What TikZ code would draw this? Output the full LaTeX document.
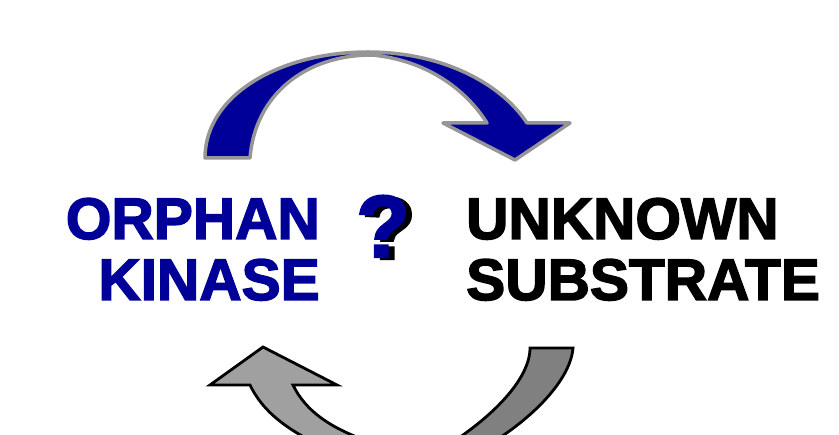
\documentclass[tikz,border=0pt]{standalone}
\usepackage{fontspec}
\setmainfont{Liberation Sans}[BoldFeatures={FakeBold=2.5}]
\definecolor{kblue}{RGB}{0,0,153}
\definecolor{lgray}{RGB}{160,160,160}
\definecolor{dgray}{RGB}{128,128,128}
\definecolor{ogray}{RGB}{150,150,150}
\begin{document}
\begin{tikzpicture}[x=1pt,y=-1pt,
  bigtxt/.style={inner sep=0pt,font=\fontsize{58.6}{60}\selectfont\bfseries},
  qmark/.style={inner sep=0pt,font=\fontsize{88}{90}\selectfont\bfseries},
  toparrow/.style={fill=kblue,draw=ogray,line width=3.5pt,line join=round},
  botarrow/.style={draw=black,line width=2.8pt,line join=miter}]
\useasboundingbox (0,0) rectangle (839,435);
\clip (0,0) rectangle (839,435);
% top arrow
\draw[toparrow] (205,158) .. controls (205,95) and (280,52) .. (368,52)
  .. controls (440,52) and (500,82) .. (527,123)
  -- (570,123) -- (515,160) -- (443,123) -- (487,123)
  .. controls (465,88) and (425,60) .. (372,55)
  .. controls (305,55) and (255,95) .. (250,158) -- cycle;
% bottom arrow, right part
\draw[botarrow,fill=dgray] (530,348) -- (573,348)
  .. controls (570,385) and (520,430) .. (470,455)
  -- (440,450)
  .. controls (490,420) and (530,380) .. (530,348) -- cycle;
% bottom arrow, left part
\draw[botarrow,fill=lgray] (263,347) -- (337,385) -- (293,385)
  .. controls (305,410) and (330,430) .. (380,445)
  -- (330,450)
  .. controls (285,430) and (262,410) .. (250,385)
  -- (210,385) -- cycle;
% texts
\node[bigtxt,text=kblue,anchor=base east] (orphan) at (320,239) {ORPHAN};
\node[bigtxt,text=kblue,anchor=base east] (kinase) at (320,300) {KINASE};
\node[bigtxt,text=black,anchor=base west] (unknown) at (466,239) {UNKNOWN};
\node[bigtxt,text=black,anchor=base west] (substrate) at (466,300) {SUBSTRATE};
\node[qmark,anchor=base west] (q) at (356,257)
  {\makebox[0pt][l]{\hspace{6pt}\raisebox{-2pt}{\color{black}?}}\color{kblue}?};
\end{tikzpicture}
\end{document}
